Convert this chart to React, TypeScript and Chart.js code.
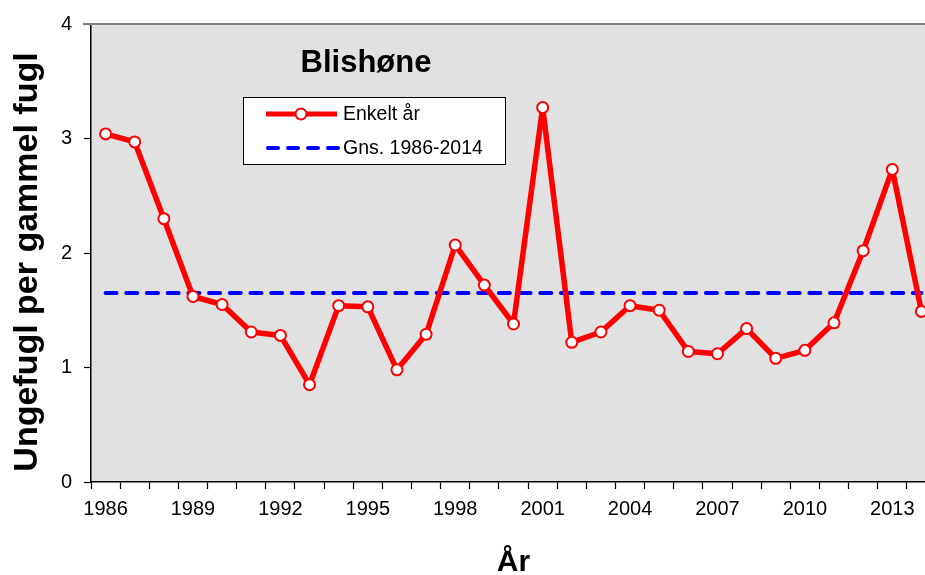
import React, { useEffect, useRef } from "react";
import { Chart, registerables } from "chart.js";

Chart.register(...registerables);

const years = [
  "1986", "1987", "1988", "1989", "1990", "1991", "1992", "1993", "1994", "1995",
  "1996", "1997", "1998", "1999", "2000", "2001", "2002", "2003", "2004", "2005",
  "2006", "2007", "2008", "2009", "2010", "2011", "2012", "2013", "2014",
];

const enkeltAar = [
  3.04, 2.97, 2.30, 1.62, 1.55, 1.31, 1.28, 0.85, 1.54, 1.53,
  0.98, 1.29, 2.07, 1.72, 1.38, 3.27, 1.22, 1.31, 1.54, 1.50,
  1.14, 1.12, 1.34, 1.08, 1.15, 1.39, 2.02, 2.73, 1.49,
];

const gjennomsnitt = [
  1.65, 1.65, 1.65, 1.65, 1.65, 1.65, 1.65, 1.65, 1.65, 1.65,
  1.65, 1.65, 1.65, 1.65, 1.65, 1.65, 1.65, 1.65, 1.65, 1.65,
  1.65, 1.65, 1.65, 1.65, 1.65, 1.65, 1.65, 1.65, 1.65,
];

const yTicks = [0, 1, 2, 3, 4];
const titleText = "Blishøne";
const legendLabels = ["Enkelt år", "Gns. 1986-2014"];
const yTitle = "Ungefugl per gammel fugl";
const xTitle = "År";

const FONT = "'Liberation Sans', Arial, sans-serif";
const RED = "#ff0000";
const BLUE = "#0000ff";

const decorPlugin = {
  id: "decor",
  beforeDraw(chart: any) {
    const { ctx, chartArea } = chart;
    ctx.save();
    ctx.fillStyle = "#e1e1e1";
    ctx.fillRect(chartArea.left, chartArea.top, chartArea.right - chartArea.left, chartArea.bottom - chartArea.top);
    ctx.restore();
  },
  afterDraw(chart: any) {
    const { ctx, chartArea } = chart;
    ctx.save();
    // top border
    ctx.strokeStyle = "#7f7f7f";
    ctx.lineWidth = 2;
    ctx.beginPath();
    ctx.moveTo(chartArea.left - 8, chartArea.top);
    ctx.lineTo(chartArea.right, chartArea.top);
    ctx.stroke();

    // y-axis title
    ctx.save();
    ctx.translate(28, 262);
    ctx.rotate(-Math.PI / 2);
    ctx.fillStyle = "#000";
    ctx.font = `bold 34px ${FONT}`;
    ctx.textAlign = "center";
    ctx.textBaseline = "middle";
    ctx.fillText(yTitle, 0, 0);
    ctx.restore();

    // title
    ctx.fillStyle = "#000";
    ctx.font = `bold 31px ${FONT}`;
    ctx.textAlign = "center";
    ctx.textBaseline = "alphabetic";
    ctx.fillText(titleText, 366, 72);

    // legend box
    const bx = 243, by = 97, bw = 262, bh = 67;
    ctx.fillStyle = "#ffffff";
    ctx.fillRect(bx, by, bw, bh);
    ctx.strokeStyle = "#000";
    ctx.lineWidth = 1;
    ctx.strokeRect(bx + 0.5, by + 0.5, bw, bh);

    // entry 1
    const y1 = 114, y2 = 148;
    ctx.strokeStyle = RED;
    ctx.lineWidth = 5;
    ctx.lineCap = "butt";
    ctx.beginPath();
    ctx.moveTo(266, y1);
    ctx.lineTo(337, y1);
    ctx.stroke();
    ctx.beginPath();
    ctx.arc(301, y1, 5.5, 0, Math.PI * 2);
    ctx.fillStyle = "#fff";
    ctx.fill();
    ctx.lineWidth = 2;
    ctx.stroke();

    // entry 2
    ctx.strokeStyle = BLUE;
    ctx.lineWidth = 4;
    ctx.lineCap = "round";
    ctx.setLineDash([10, 10]);
    ctx.beginPath();
    ctx.moveTo(268, y2);
    ctx.lineTo(338, y2);
    ctx.stroke();
    ctx.setLineDash([]);

    ctx.fillStyle = "#000";
    ctx.font = `19.5px ${FONT}`;
    ctx.textAlign = "left";
    ctx.textBaseline = "middle";
    ctx.fillText(legendLabels[0], 343, y1 + 1);
    ctx.fillText(legendLabels[1], 343, y2 + 1);
    ctx.restore();
  },
};

export default function App() {
  const ref = useRef<HTMLCanvasElement | null>(null);

  useEffect(() => {
    if (!ref.current) return;
    const chart = new Chart(ref.current, {
      type: "line",
      data: {
        labels: years,
        datasets: [
          {
            label: legendLabels[1],
            data: gjennomsnitt,
            borderColor: BLUE,
            borderWidth: 4,
            borderDash: [11, 9.7],
            borderCapStyle: "round",
            pointRadius: 0,
            fill: false,
            order: 2,
          },
          {
            label: legendLabels[0],
            data: enkeltAar,
            borderColor: RED,
            borderWidth: 5.5,
            borderJoinStyle: "round",
            pointRadius: 5.5,
            pointBorderWidth: 2,
            pointBackgroundColor: "#ffffff",
            pointBorderColor: RED,
            fill: false,
            tension: 0,
            order: 1,
          },
        ],
      },
      options: {
        responsive: false,
        animation: false,
        layout: { padding: { top: 22, left: 0, right: 9, bottom: 0 } },
        plugins: {
          legend: { display: false },
          title: { display: false },
          tooltip: { enabled: false },
        },
        scales: {
          x: {
            type: "category",
            offset: true,
            grid: {
              offset: true,
              drawOnChartArea: false,
              drawTicks: true,
              tickLength: 7,
              tickColor: "#000",
              tickWidth: 1.2,
            },
            border: { display: true, color: "#000", width: 1.5 },
            ticks: {
              autoSkip: false,
              maxRotation: 0,
              padding: 8,
              color: "#000",
              font: { family: FONT, size: 20 },
              callback: (_v: any, i: number) => (i % 3 === 0 ? years[i] : ""),
            },
            title: {
              display: true,
              text: xTitle,
              color: "#000",
              font: { family: FONT, size: 30, weight: "bold", lineHeight: 0.8 },
              padding: 0,
            },
            afterFit: (s: any) => {
              s.height = 93;
            },
          },
          y: {
            min: 0,
            max: 4,
            afterBuildTicks: (s: any) => {
              s.ticks = yTicks.map((v) => ({ value: v }));
            },
            grid: {
              drawOnChartArea: false,
              drawTicks: true,
              tickLength: 7,
              tickColor: "#000",
              tickWidth: 1.2,
            },
            border: { display: true, color: "#000", width: 1.5 },
            ticks: {
              padding: 12,
              color: "#000",
              font: { family: FONT, size: 20 },
            },
            title: { display: false },
            afterFit: (s: any) => {
              s.width = 91;
            },
          },
        },
      },
      plugins: [decorPlugin],
    } as any);
    return () => chart.destroy();
  }, []);

  return (
    <div style={{ position: "fixed", left: 0, top: 0, width: 925, height: 575, overflow: "hidden", background: "#fff" }}>
      <canvas ref={ref} width={945} height={575} style={{ width: 945, height: 575, display: "block" }} />
    </div>
  );
}
